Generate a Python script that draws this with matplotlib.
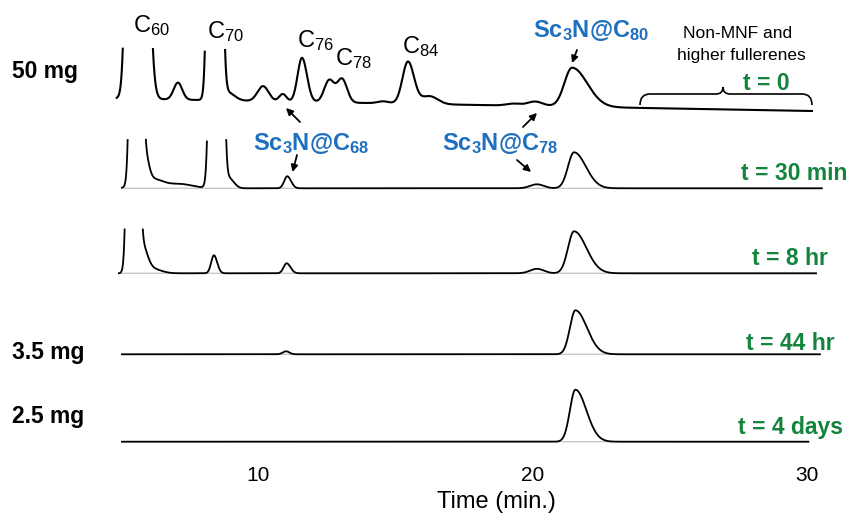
"""Stacked HPLC chromatograms: Sc3N@C80 isolation over time."""

import matplotlib

matplotlib.use("Agg")
import matplotlib.pyplot as plt
import numpy as np
from matplotlib.patches import FancyArrowPatch, PathPatch
from matplotlib.path import Path

plt.rcParams["font.family"] = ["Liberation Sans", "DejaVu Sans"]
plt.rcParams["mathtext.fontset"] = "custom"
plt.rcParams["mathtext.rm"] = "Liberation Sans"
plt.rcParams["mathtext.bf"] = "Liberation Sans:bold"
plt.rcParams["mathtext.default"] = "rm"

W, H = 849, 514
BLUE = "#1f6fbf"
GREEN = "#14843c"

# traces from top to bottom
trace_labels = ["t = 0", "t = 30 min", "t = 8 hr", "t = 44 hr", "t = 4 days"]
mass_labels = ["50 mg", "", "", "3.5 mg", "2.5 mg"]
run_start = [4.86, 5.05, 4.94, 5.05, 5.05]   # min
run_end = [30.19, 30.55, 30.34, 30.48, 30.06]
baseline_sink = [12.5, 0, 0, 0, 0]            # baseline drift over the run

# peaks: (retention time [min], height, sigma left, sigma right)
peaks_t0 = [
    (5.55, 2000, 0.173, 0.232),   # C60, off scale
    (7.09, 17, 0.155, 0.155),
    (8.42, 2000, 0.129, 0.14),    # C70, off scale
    (8.90, 8, 0.25, 0.25),
    (10.19, 15, 0.2, 0.2),
    (10.91, 7.5, 0.13, 0.13),     # Sc3N@C68
    (11.61, 44, 0.16, 0.18),      # C76
    (12.60, 22, 0.18, 0.18),
    (13.07, 23.5, 0.18, 0.18),    # C78
    (14.57, 2, 0.2, 0.2),
    (15.47, 42, 0.2, 0.22),       # C84
    (16.25, 8, 0.3, 0.3),
    (19.30, 2, 0.25, 0.25),
    (20.10, 4.5, 0.28, 0.28),     # Sc3N@C78
    (21.45, 39, 0.28, 0.55),      # Sc3N@C80
]
peaks_t30 = [
    (5.60, 2000, 0.125, 0.10),
    (5.85, 35, 0.15, 0.15),
    (6.20, 6, 0.3, 0.3),
    (7.10, 4.5, 1.0, 0.5),
    (8.50, 2000, 0.129, 0.125),
    (8.95, 10, 0.18, 0.18),
    (11.07, 12, 0.11, 0.14),
    (20.17, 4, 0.25, 0.25),
    (21.52, 36, 0.22, 0.43),
]
peaks_t8h = [
    (5.48, 2000, 0.12, 0.105),
    (5.75, 30, 0.2, 0.2),
    (6.20, 4, 0.3, 0.3),
    (8.40, 18, 0.10, 0.12),
    (11.05, 10, 0.11, 0.14),
    (20.17, 4.5, 0.25, 0.25),
    (21.52, 42, 0.22, 0.45),
]
peaks_t44h = [
    (11.03, 3, 0.12, 0.12),
    (21.57, 44, 0.2, 0.42),
]
peaks_t4d = [
    (21.57, 52, 0.2, 0.40),
]
all_peaks = [peaks_t0, peaks_t30, peaks_t8h, peaks_t44h, peaks_t4d]

# layout (y in axes units, one unit ~ one pixel)
offsets = [363.5, 273.7, 188.7, 107.7, 20.3]
clip_top = [414, 324, 234, None, None]
label_pos = [(790, 90), (847, 180), (828, 265), (835, 350), (843, 434)]
mass_pos = [(12, 78), None, None, (12, 359), (12, 423)]


def signal(t, peaks):
    y = np.zeros_like(t)
    for c, h, sl, sr in peaks:
        s = np.where(t < c, sl, sr)
        y += h * np.exp(-((t - c) ** 2) / (2 * s ** 2))
    return y


def fp(x, y):
    return x / W, 1 - y / H


fig = plt.figure(figsize=(W / 100, H / 100), dpi=100)
ax = fig.add_axes([0, 52 / H, 1, 462 / H])
ax.set_xlim(0.608, 31.537)
ax.set_ylim(0, 462)

for i, peaks in enumerate(all_peaks):
    t = np.arange(run_start[i], run_end[i], 0.004)
    base = offsets[i] - baseline_sink[i] * (t - run_start[i]) / (run_end[i] - run_start[i])
    y = base + signal(t, peaks)
    if clip_top[i] is not None:
        y[y > clip_top[i]] = np.nan
    if i > 0:
        ax.plot(t, base, color="#c4c4c4", lw=0.9, zorder=1)
    ax.plot(t, y, color="black", lw=1.5 if i == 0 else 1.3, zorder=2)

    fig.text(*fp(*label_pos[i]), trace_labels[i], color=GREEN, fontsize=16.5,
             fontweight="bold", ha="right", va="baseline")
    if mass_pos[i] is not None:
        fig.text(*fp(*mass_pos[i]), mass_labels[i], fontsize=16.5,
                 fontweight="bold", ha="left", va="baseline")

for s in ax.spines.values():
    s.set_visible(False)
ax.set_yticks([])
ax.set_xticks([10, 20, 30])
ax.tick_params(axis="x", length=0, pad=3, labelsize=15)
ax.set_xlabel("Time (min.)", fontsize=17)
ax.xaxis.set_label_coords(0.585, -0.062)

# fullerene labels
for txt, x, yb in [("C$_{60}$", 133, 32), ("C$_{70}$", 207, 38), ("C$_{76}$", 297, 47),
                   ("C$_{78}$", 335, 65), ("C$_{84}$", 402, 53)]:
    fig.text(*fp(x, yb), txt, fontsize=17, ha="left", va="baseline")

for txt, x, yb in [(r"$\mathbf{Sc_3N@C_{80}}$", 533, 37),
                   (r"$\mathbf{Sc_3N@C_{68}}$", 253, 150),
                   (r"$\mathbf{Sc_3N@C_{78}}$", 442, 150)]:
    fig.text(*fp(x, yb), txt, fontsize=17, color=BLUE, ha="left", va="baseline")

fig.text(*fp(738, 38), "Non-MNF and", fontsize=12.5, ha="center", va="baseline")
fig.text(*fp(741, 60), "higher fullerenes", fontsize=12.5, ha="center", va="baseline")

arrows = [((577, 50), (572, 63)),
          ((300, 122), (286, 108)),
          ((297, 155), (292.5, 172)),
          ((523, 127), (537, 113)),
          ((517, 160), (531, 172))]
for tail, head in arrows:
    fig.add_artist(FancyArrowPatch(
        fp(*tail), fp(*head), transform=fig.transFigure, arrowstyle="-|>",
        mutation_scale=10, lw=1.3, color="black", shrinkA=0, shrinkB=0))

# brace over the late-eluting region
bx0, bx1, bxm, by_end, by_line, by_tip = 640, 812, 723, 105, 94, 87
verts = [(bx0, by_end), (bx0, by_line), (bx0 + 10, by_line), (bxm - 7, by_line),
         (bxm, by_line), (bxm, by_tip), (bxm, by_line), (bxm + 7, by_line),
         (bx1 - 10, by_line), (bx1, by_line), (bx1, by_end)]
codes = [Path.MOVETO, Path.CURVE3, Path.CURVE3, Path.LINETO, Path.CURVE3, Path.CURVE3,
         Path.CURVE3, Path.CURVE3, Path.LINETO, Path.CURVE3, Path.CURVE3]
brace = Path([fp(*v) for v in verts], codes)
fig.add_artist(PathPatch(brace, transform=fig.transFigure, fill=False, lw=1.2, color="black"))

fig.savefig("out.png", dpi=100)
